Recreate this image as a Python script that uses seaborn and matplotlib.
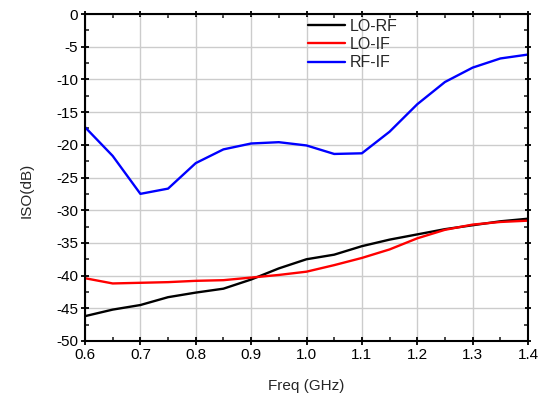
import numpy as np
import pandas as pd
import matplotlib
matplotlib.use("Agg")
import matplotlib.pyplot as plt
import seaborn as sns
from matplotlib.ticker import MultipleLocator, FormatStrFormatter

freq = [0.6, 0.65, 0.7, 0.75, 0.8, 0.85, 0.9, 0.95, 1.0, 1.05, 1.1, 1.15, 1.2, 1.25, 1.3, 1.35, 1.4]
lo_rf = [-46.2, -45.2, -44.5, -43.3, -42.6, -42.0, -40.6, -38.9, -37.5, -36.8, -35.5, -34.5, -33.7, -32.9, -32.3, -31.7, -31.3]
lo_if = [-40.4, -41.2, -41.1, -41.0, -40.8, -40.7, -40.3, -39.9, -39.4, -38.4, -37.3, -36.0, -34.3, -33.0, -32.2, -31.8, -31.6]
rf_if = [-17.3, -21.7, -27.5, -26.7, -22.8, -20.7, -19.8, -19.6, -20.1, -21.4, -21.3, -18.0, -13.8, -10.4, -8.2, -6.8, -6.2]
series_names = ["LO-RF", "LO-IF", "RF-IF"]
colors = ["#000000", "#ff0000", "#0000ff"]

df = pd.DataFrame({
    "Freq": freq * 3,
    "ISO": lo_rf + lo_if + rf_if,
    "Series": [series_names[0]] * len(freq) + [series_names[1]] * len(freq) + [series_names[2]] * len(freq),
})

sns.set_style("ticks")
plt.rcParams["font.family"] = ["Liberation Sans", "DejaVu Sans"]
plt.rcParams["font.size"] = 11

fig = plt.figure(figsize=(5.49, 3.96), dpi=100)
ax = fig.add_axes([85/549, 1-341/396, 443/549, 327/396])

sns.lineplot(data=df, x="Freq", y="ISO", hue="Series", hue_order=series_names,
             palette=colors, linewidth=1.7, ax=ax, legend=True)

ax.set_xlim(0.6, 1.4)
ax.set_ylim(-50, 0)
ax.xaxis.set_major_locator(MultipleLocator(0.1))
ax.xaxis.set_minor_locator(MultipleLocator(0.05))
ax.yaxis.set_major_locator(MultipleLocator(5))
ax.yaxis.set_minor_locator(MultipleLocator(2.5))
ax.xaxis.set_major_formatter(FormatStrFormatter("%.1f"))
ax.yaxis.set_major_formatter(FormatStrFormatter("%d"))
ax.grid(True, which="major", color="#cccccc", linewidth=1.0)
ax.set_axisbelow(True)

for s in ax.spines.values():
    s.set_linewidth(1.5)
    s.set_color("black")

ax.tick_params(which="major", direction="inout", length=6, width=1.3, labelsize=11,
               top=True, right=True, colors="black", pad=2)
ax.tick_params(which="minor", direction="in", length=3, width=1.2, top=True, right=True)
ax.tick_params(axis="both", which="both", labeltop=False, labelright=False)
for t in ax.xaxis.get_major_ticks():
    t.tick2line.set_markersize(4)
for t in ax.yaxis.get_major_ticks():
    t.tick2line.set_markersize(4)

ax.set_xlabel("Freq (GHz)", fontsize=11)
ax.set_ylabel("ISO(dB)", fontsize=11)
ax.xaxis.set_label_coords(0.5, -(386 - 341) / 327, transform=ax.transAxes)
ax.xaxis.label.set_va("center")
ax.yaxis.set_label_coords((27 - 85) / 443, (341 - 190) / 327, transform=ax.transAxes)
ax.yaxis.label.set_va("center")

leg = ax.legend(loc="upper left", bbox_to_anchor=((303-85)/443, 1.0), frameon=False,
                borderaxespad=0, borderpad=0.3, handlelength=2.3, handletextpad=0.3,
                labelspacing=0.2, fontsize=11.5)

fig.savefig("out.png", dpi=100)
